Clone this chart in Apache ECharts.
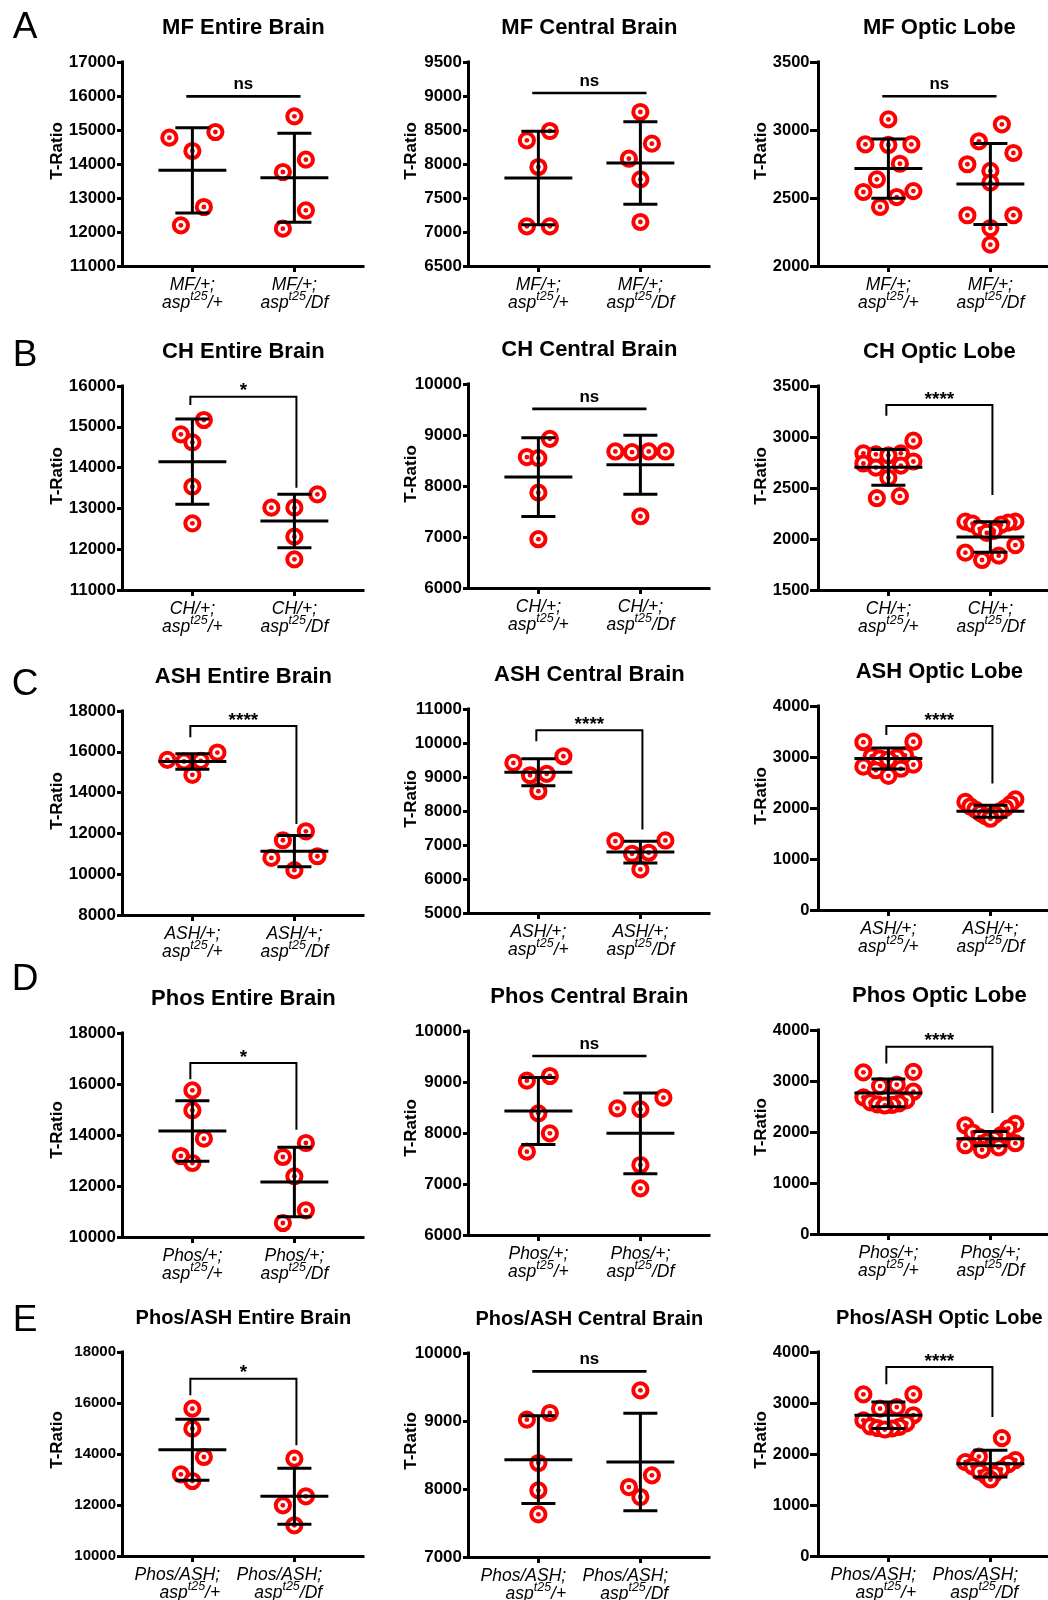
<!DOCTYPE html>
<html>
<head>
<meta charset="utf-8">
<script src="https://cdn.jsdelivr.net/npm/echarts@6/dist/echarts.min.js"></script>
<style>
html,body{margin:0;padding:0;background:#fff;}
#chart{width:1048px;height:1600px;}
</style>
</head>
<body>
<div id="chart"></div>
<script>
// ================= DATA =================
const rowLetters = ['A', 'B', 'C', 'D', 'E'];
const panelTitles = [
  'MF Entire Brain', 'MF Central Brain', 'MF Optic Lobe',
  'CH Entire Brain', 'CH Central Brain', 'CH Optic Lobe',
  'ASH Entire Brain', 'ASH Central Brain', 'ASH Optic Lobe',
  'Phos Entire Brain', 'Phos Central Brain', 'Phos Optic Lobe',
  'Phos/ASH Entire Brain', 'Phos/ASH Central Brain', 'Phos/ASH Optic Lobe'
];
const genotypeLabels = ['MF/+;', 'CH/+;', 'ASH/+;', 'Phos/+;', 'Phos/ASH;'];
const alleleBase = 'asp';
const alleleSup = 't25';
const groupSuffix = ['/+', '/Df'];
const yAxisName = 'T-Ratio';

const yMin  = [11000, 6500, 2000, 11000, 6000, 1500, 8000, 5000, 0, 10000, 6000, 0, 10000, 7000, 0];
const yMax  = [17000, 9500, 3500, 16000, 10000, 3500, 18000, 11000, 4000, 18000, 10000, 4000, 18000, 10000, 4000];
const yStep = [1000, 500, 500, 1000, 1000, 500, 2000, 1000, 1000, 2000, 1000, 1000, 2000, 1000, 1000];

// individual brains (T-Ratio)
const mfEntireCtrl = [14775, 14941, 14382, 12735, 12196];
const mfEntireDf = [15402, 14127, 13765, 12637, 12098];
const mfCentralCtrl = [8485, 8348, 7956, 7083, 7083];
const mfCentralDf = [8765, 8299, 8078, 7774, 7147];
const mfOpticCtrl = [3078, 2895, 2895, 2890, 2752, 2637, 2551, 2544, 2507, 2434];
const mfOpticDf = [3042, 2917, 2831, 2748, 2699, 2613, 2373, 2373, 2279, 2157];

const chEntireCtrl = [15167, 14815, 14619, 13533, 12634];
const chEntireDf = [13345, 13018, 13018, 12307, 11752];
const chCentralCtrl = [8925, 8567, 8547, 7870, 6957];
const chCentralDf = [8677, 8677, 8677, 8664, 7407];
const chOpticCtrl = [2964, 2840, 2840, 2830, 2820, 2760, 2740, 2720, 2700, 2600, 2420, 2400];
const chOpticDf = [2170, 2170, 2160, 2150, 2140, 2100, 2080, 2060, 1940, 1866, 1837, 1794];

const ashEntireCtrl = [15964, 15606, 15557, 15524, 14872];
const ashEntireDf = [12103, 11663, 10881, 10800, 10197];
const ashCentralCtrl = [9610, 9414, 9091, 9052, 8582];
const ashCentralDf = [7134, 7114, 6772, 6742, 6282];
const ashOpticCtrl = [3300, 3290, 3030, 3010, 2990, 2970, 2950, 2850, 2810, 2770, 2740, 2630];
const ashOpticDf = [2170, 2120, 2075, 2030, 2000, 1970, 1940, 1900, 1870, 1840, 1810, 1790];

const phosEntireCtrl = [15752, 14968, 13857, 13177, 12902];
const phosEntireDf = [13687, 13138, 12380, 11047, 10550];
const phosCentralCtrl = [9118, 9026, 8386, 7993, 7634];
const phosCentralDf = [8693, 8484, 8464, 7373, 6915];
const phosOpticCtrl = [3180, 3170, 2930, 2900, 2790, 2680, 2620, 2580, 2560, 2540, 2530, 2520];
const phosOpticDf = [2160, 2130, 2070, 1990, 1940, 1900, 1860, 1810, 1780, 1740, 1700, 1650];

const phosAshEntireCtrl = [15778, 14994, 13883, 13203, 12942];
const phosAshEntireDf = [13818, 12341, 11988, 11204];
const phosAshCentralCtrl = [9118, 9020, 8382, 7980, 7627];
const phosAshCentralDf = [9451, 8201, 8029, 7882];
const phosAshOpticCtrl = [3170, 3170, 2920, 2890, 2760, 2660, 2600, 2540, 2530, 2510, 2500, 2480];
const phosAshOpticDf = [2310, 1950, 1880, 1840, 1800, 1760, 1700, 1650, 1600, 1560, 1500];

// mean and SD per group [ctrl, Df], as drawn
const groupMeans = [[13814, 13598], [7794, 8015], [2716, 2603],
                    [14145, 12691], [8176, 8417], [2703, 2020],
                    [15524, 11126], [9140, 6791], [2972, 1938],
                    [14157, 12158], [8431, 7993], [2767, 1869],
                    [14170, 12341], [8431, 8397], [2758, 1810]];
const groupSDs = [[1255, 1309], [686, 606], [217, 297],
                  [1046, 654], [772, 577], [175, 150],
                  [375, 765], [397, 318], [205, 118],
                  [1190, 1360], [657, 791], [270, 140],
                  [1196, 1098], [645, 716], [260, 262]];

// significance annotations
const sigText = ['ns', 'ns', 'ns', '*', 'ns', '****', '****', '****', '****', '*', 'ns', '****', '*', 'ns', '****'];
const sigBar = [15990, 9044, 3248, 15739, 9511, 3314, 17267, 10374, 3607, 16824, 9510, 3672, 16954, 9730, 3706];
const sigLegEnds = [null, null, null, [15534, 13508], null, [3209, 2431],
                    [16713, 12462], [10051, 7457], [3430, 2481],
                    [16183, 14210], null, [3344, 2374],
                    [16301, 14340], null, [3366, 2725]];

const ctrlSets = [mfEntireCtrl, mfCentralCtrl, mfOpticCtrl, chEntireCtrl, chCentralCtrl, chOpticCtrl,
  ashEntireCtrl, ashCentralCtrl, ashOpticCtrl, phosEntireCtrl, phosCentralCtrl, phosOpticCtrl,
  phosAshEntireCtrl, phosAshCentralCtrl, phosAshOpticCtrl];
const dfSets = [mfEntireDf, mfCentralDf, mfOpticDf, chEntireDf, chCentralDf, chOpticDf,
  ashEntireDf, ashCentralDf, ashOpticDf, phosEntireDf, phosCentralDf, phosOpticDf,
  phosAshEntireDf, phosAshCentralDf, phosAshOpticDf];

// ================= LAYOUT / STYLE =================
const FONT = '"Liberation Sans", Arial, Helvetica, sans-serif';
const RED = '#ff0000';
const colLeft = [122, 468, 818];
const colWidth = [241, 241, 230];
const gridTop = [[62, 62, 62], [386, 384, 386], [711, 709, 706], [1033, 1031, 1030], [1352, 1353, 1352]];
const GRID_H = 204;
const X_MIN = 0.31;
const UNIT_PX = 102;
const tickFont = [[17, 17, 16.5], [17, 17, 16.5], [17, 17, 16.5], [17, 17, 16.5], [15, 17, 16.5]];
const tickLen = [5, 5, 8];
const labelMargin = [6, 6, 8.5];
const nameGap = [56, 48.5, 48];
const nameShift = [13, 12, 12, 5, 14];
const titleFont = [22, 22, 22, 22, 20];
const letterY = [28, 356, 685, 980, 1321];

const BIN_PX = 19.2, SPREAD_PX = 23, MAX_HALF_PX = 25;
const MEAN_HALF = 0.333, CAP_HALF = 0.167, NS_EXT = 0.06, LEG_EXT = 0.02;

// horizontal spread of points (beeswarm) derived from the values
function swarmOffsets(values, i) {
  const pxPerUnit = GRID_H / (yMax[i] - yMin[i]);
  const idx = values.map((v, k) => k).sort((a, b) => values[b] - values[a]);
  const offs = new Array(values.length).fill(0);
  let k = 0;
  while (k < idx.length) {
    const start = values[idx[k]];
    const bin = [];
    while (k < idx.length && (start - values[idx[k]]) * pxPerUnit < BIN_PX) { bin.push(idx[k]); k++; }
    const n = bin.length;
    let step = SPREAD_PX;
    if (n > 1 && (n - 1) * step / 2 > MAX_HALF_PX) step = 2 * MAX_HALF_PX / (n - 1);
    const slots = [];
    for (let j = 0; j < n; j++) slots.push((j - (n - 1) / 2) * step);
    let lo = 0, hi = n - 1, right = true;
    const order = [];
    while (lo <= hi) { order.push(right ? slots[hi--] : slots[lo++]); right = !right; }
    bin.forEach((id, j) => { offs[id] = order[j] / UNIT_PX; });
  }
  return offs;
}

function renderPoint(params, api) {
  const p = api.coord([api.value(0), api.value(1)]);
  return {
    type: 'group',
    children: [
      { type: 'circle', shape: { cx: p[0], cy: p[1], r: 7.1 }, style: { fill: '#ffffff', stroke: RED, lineWidth: 4 } },
      { type: 'circle', shape: { cx: p[0], cy: p[1], r: 2.4 }, style: { fill: RED, stroke: 'none' } }
    ]
  };
}

function seg(a, b, w) {
  return { type: 'line', shape: { x1: a[0], y1: a[1], x2: b[0], y2: b[1] }, style: { stroke: '#000', lineWidth: w, fill: 'none' } };
}

function renderBar(params, api) {
  const x = api.value(0), m = api.value(1), s = api.value(2);
  return {
    type: 'group',
    children: [
      seg(api.coord([x - MEAN_HALF, m]), api.coord([x + MEAN_HALF, m]), 3),
      seg(api.coord([x, m - s]), api.coord([x, m + s]), 3),
      seg(api.coord([x - CAP_HALF, m + s]), api.coord([x + CAP_HALF, m + s]), 3),
      seg(api.coord([x - CAP_HALF, m - s]), api.coord([x + CAP_HALF, m - s]), 3)
    ]
  };
}

function makeSigRenderer(i) {
  return function (params, api) {
    const lvl = api.value(0);
    const isNs = sigText[i] === 'ns';
    const children = [];
    if (isNs) {
      children.push(seg(api.coord([1 - NS_EXT, lvl]), api.coord([2 + NS_EXT, lvl]), 2.7));
    } else {
      const l = api.value(1), r = api.value(2);
      const pts = [api.coord([1 - LEG_EXT, l]), api.coord([1 - LEG_EXT, lvl]),
                   api.coord([2 + LEG_EXT, lvl]), api.coord([2 + LEG_EXT, r])];
      children.push({ type: 'polyline', shape: { points: pts }, style: { stroke: '#000', lineWidth: 2, fill: 'none', lineJoin: 'miter' } });
    }
    const t = api.coord([1.5, lvl]);
    children.push({
      type: 'text', x: t[0], y: t[1] - (isNs ? 11.6 : 5.5),
      style: { text: sigText[i], fill: '#000', font: 'bold ' + (isNs ? 17 : 19) + 'px ' + FONT,
               align: 'center', verticalAlign: 'middle', textAlign: 'center', textVerticalAlign: 'middle' }
    });
    return { type: 'group', children };
  };
}

// ================= BUILD =================
const grids = [], xAxes = [], yAxes = [], series = [], graphics = [];

for (let i = 0; i < 15; i++) {
  const r = Math.floor(i / 3), c = i % 3;
  const left = colLeft[c], top = gridTop[r][c], width = colWidth[c];
  const xMax = X_MIN + width / UNIT_PX;
  const rowE = r === 4;
  const lineAlign = rowE ? 'right' : undefined;
  grids.push({ left: left, top: top, width: width, height: GRID_H, containLabel: false, outerBoundsMode: 'none' });

  const lab = { fontSize: 17.5, fontStyle: 'italic', fontFamily: FONT, color: '#000', lineHeight: 18.5, verticalAlign: 'middle', align: lineAlign };
  xAxes.push({
    type: 'value', gridIndex: i, min: X_MIN, max: xMax,
    axisLine: { show: true, onZero: false, lineStyle: { color: '#000', width: 3, cap: 'square' } },
    axisTick: { show: true, customValues: [1, 2], length: 6, lineStyle: { color: '#000', width: 3 } },
    splitLine: { show: false },
    axisLabel: {
      show: true, customValues: [1, 2], margin: 9.5,
      padding: rowE ? [0, 30, 0, 0] : 0,
      formatter: function (v) {
        const g = Math.round(v) === 1 ? 0 : 1;
        return '{a|' + genotypeLabels[r] + '}\n{b|' + alleleBase + '}{s|' + alleleSup + '}{b|' + groupSuffix[g] + '}';
      },
      rich: {
        a: Object.assign({}, lab),
        b: Object.assign({}, lab),
        s: Object.assign({}, lab, { fontSize: 12.5, padding: [0, 0, 13, 0] })
      }
    }
  });

  yAxes.push({
    type: 'value', gridIndex: i, min: yMin[i], max: yMax[i], interval: yStep[i],
    axisLine: { show: true, onZero: false, lineStyle: { color: '#000', width: 3, cap: 'square' } },
    axisTick: { show: true, length: tickLen[c], lineStyle: { color: '#000', width: 3 } },
    splitLine: { show: false },
    axisLabel: { show: true, showMinLabel: true, showMaxLabel: true, color: '#000', fontWeight: 'bold',
                 fontFamily: FONT, fontSize: tickFont[r][c], margin: labelMargin[c],
                 formatter: function (v) { return String(v); } },
    name: yAxisName, nameLocation: 'middle', nameGap: nameGap[c], nameRotate: 90, nameMoveOverlap: false,
    nameTextStyle: { color: '#000', fontWeight: 'bold', fontSize: 17, fontFamily: FONT, padding: [0, 0, 0, nameShift[r] * 2] }
  });

  [ctrlSets[i], dfSets[i]].forEach(function (vals, g) {
    const offs = swarmOffsets(vals, i);
    series.push({
      type: 'custom', xAxisIndex: i, yAxisIndex: i, z: 2, silent: true, animation: false,
      data: vals.map((v, k) => [g + 1 + offs[k], v]),
      renderItem: renderPoint
    });
  });

  series.push({
    type: 'custom', xAxisIndex: i, yAxisIndex: i, z: 3, silent: true, animation: false,
    data: [[1, groupMeans[i][0], groupSDs[i][0]], [2, groupMeans[i][1], groupSDs[i][1]]],
    renderItem: renderBar
  });

  const sigDatum = sigLegEnds[i] ? [sigBar[i], sigLegEnds[i][0], sigLegEnds[i][1]] : [sigBar[i]];
  series.push({
    type: 'custom', xAxisIndex: i, yAxisIndex: i, z: 3, silent: true, animation: false,
    data: [sigDatum], renderItem: makeSigRenderer(i)
  });

  graphics.push({
    type: 'text', x: left + (1.5 - X_MIN) * UNIT_PX, y: top - 34, silent: true,
    style: { text: panelTitles[i], fill: '#000', font: 'bold ' + titleFont[r] + 'px ' + FONT,
             align: 'center', verticalAlign: 'middle', textAlign: 'center', textVerticalAlign: 'middle' }
  });
}

rowLetters.forEach(function (L, r) {
  graphics.push({
    type: 'text', x: 25, y: letterY[r], silent: true,
    style: { text: L, fill: '#000', font: '37px ' + FONT,
             align: 'center', verticalAlign: 'middle', textAlign: 'center', textVerticalAlign: 'middle' }
  });
});

const chart = echarts.init(document.getElementById('chart'), null, { renderer: 'canvas', width: 1048, height: 1600 });
chart.setOption({
  backgroundColor: '#ffffff',
  animation: false,
  grid: grids,
  xAxis: xAxes,
  yAxis: yAxes,
  series: series,
  graphic: graphics
});
</script>
</body>
</html>
